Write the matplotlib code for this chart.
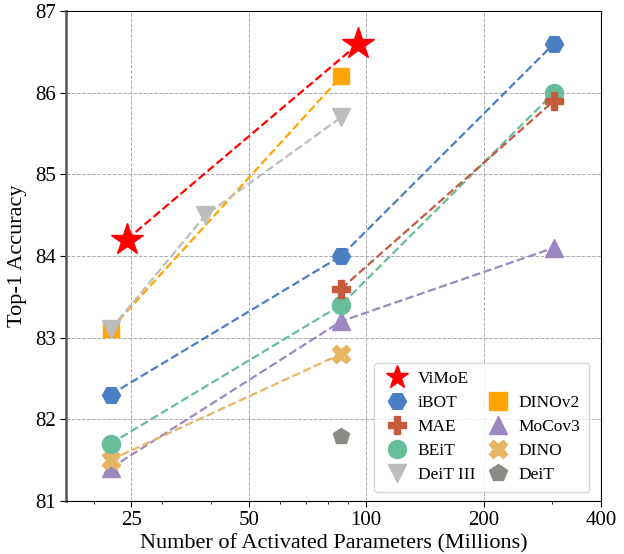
import matplotlib
matplotlib.use('Agg')
import matplotlib.pyplot as plt
from matplotlib.ticker import FixedLocator, FixedFormatter, NullFormatter, LogLocator
from matplotlib.lines import Line2D

plt.rcParams['font.family'] = ['Liberation Serif', 'DejaVu Serif']

# ---------------------------------------------------------------------------
# data: activated params (millions) and top-1 accuracy
vimoe_x = [24.3, 95.5]
vimoe_y = [84.2, 86.6]
ibot_x = [22.1, 86.3, 303]
ibot_y = [82.3, 84.0, 86.6]
mae_x = [86.3, 303]
mae_y = [83.6, 85.9]
beit_x = [22.1, 86.3, 303]
beit_y = [81.7, 83.4, 86.0]
deit3_x = [22.1, 38.7, 86.3]
deit3_y = [83.1, 84.5, 85.7]
dinov2_x = [22.1, 86.3]
dinov2_y = [83.1, 86.2]
mocov3_x = [22.1, 86.3, 303]
mocov3_y = [81.4, 83.2, 84.1]
dino_x = [22.1, 86.3]
dino_y = [81.5, 82.8]
deit_x = [86.3]
deit_y = [81.8]

x_ticks = [25, 50, 100, 200, 400]
y_ticks = [81, 82, 83, 84, 85, 86, 87]

# ---------------------------------------------------------------------------
fig = plt.figure(figsize=(6.24, 5.54), dpi=100)
ax = fig.add_axes([0.106, 0.096, 0.857, 0.884])

series = [
    # name, x, y, color, marker, size
    ('MoCov3', mocov3_x, mocov3_y, '#9b88c0', '^', 13),
    ('DINO', dino_x, dino_y, '#e6b563', 'X', 13),
    ('BEiT', beit_x, beit_y, '#66bd99', 'o', 13),
    ('MAE', mae_x, mae_y, '#c55a3c', 'P', 13),
    ('iBOT', ibot_x, ibot_y, '#4a7fc4', 'H', 13),
    ('DeiT', deit_x, deit_y, '#8c8c86', 'p', 12),
    ('DINOv2', dinov2_x, dinov2_y, '#ffa500', 's', 12),
    ('DeiT III', deit3_x, deit3_y, '#bdbdbd', 'v', 13),
    ('ViMoE', vimoe_x, vimoe_y, '#ff0000', '*', 24),
]
handles = {}
for name, xs, ys, c, m, ms in series:
    ax.plot(xs, ys, color=c, linestyle='--', linewidth=1.6, zorder=3)
    ax.plot(xs, ys, color=c, linestyle='none', marker=m, markersize=ms, zorder=4)
    handles[name] = Line2D([], [], color=c, linestyle='none', marker=m,
                           markersize=17 if m == '*' else 13)

ax.set_xscale('log')
ax.set_xlim(17, 400)
ax.set_ylim(81, 87)
ax.xaxis.set_major_locator(FixedLocator(x_ticks))
ax.xaxis.set_major_formatter(FixedFormatter([str(t) for t in x_ticks]))
ax.xaxis.set_minor_locator(LogLocator(base=10, subs=range(2, 10)))
ax.xaxis.set_minor_formatter(NullFormatter())
ax.yaxis.set_major_locator(FixedLocator(y_ticks))
ax.tick_params(axis='both', which='major', labelsize=15, length=4)
ax.tick_params(axis='both', which='minor', length=2.5)

ax.grid(True, which='major', linestyle='--', linewidth=0.7, color='#aaaaaa')
ax.set_axisbelow(True)
ax.spines['left'].set_color('#555555')
ax.spines['left'].set_linewidth(1.8)

ax.set_xlabel('Number of Activated Parameters (Millions)', fontsize=16, labelpad=3)
ax.set_ylabel('Top-1 Accuracy', fontsize=16, labelpad=6)

blank = Line2D([], [], linestyle='none')
order = ['ViMoE', 'iBOT', 'MAE', 'BEiT', 'DeiT III', None, 'DINOv2', 'MoCov3', 'DINO', 'DeiT']
leg_h = [handles[n] if n else blank for n in order]
leg_l = [n if n else '' for n in order]
ax.legend(leg_h, leg_l, ncol=2, loc='lower right', fontsize=12.5,
          bbox_to_anchor=(0.978, 0.018), borderaxespad=0,
          handletextpad=0.4, columnspacing=0.5, labelspacing=0.45,
          borderpad=0.5, handlelength=1.6)

fig.savefig('out.png', dpi=100)
